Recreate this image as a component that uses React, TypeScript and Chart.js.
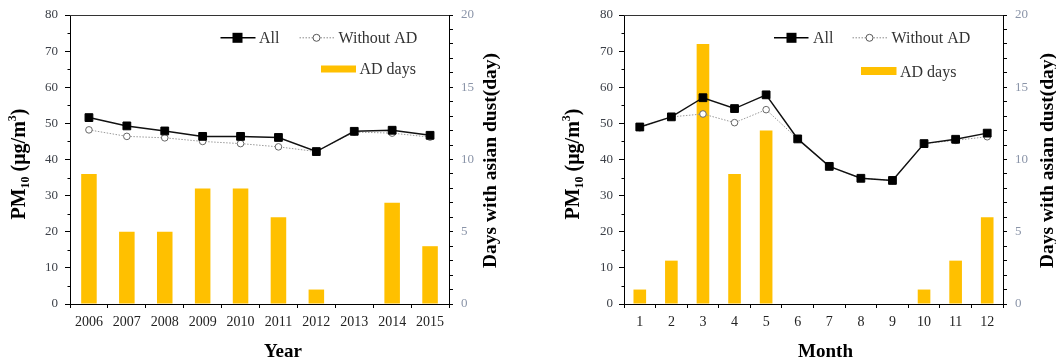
import React, { useEffect, useRef } from 'react';
import { Chart, registerables } from 'chart.js';

Chart.register(...registerables);

// ---------- data ----------
const yearLabels = ['2006', '2007', '2008', '2009', '2010', '2011', '2012', '2013', '2014', '2015'];
const yearAll = [51.6, 49.3, 47.9, 46.4, 46.4, 46.1, 42.2, 47.8, 48.1, 46.7];
const yearWithoutAD = [48.2, 46.4, 46.0, 45.0, 44.4, 43.5, 42.2, 47.6, 47.3, 46.2];
const yearADDays = [9, 5, 5, 8, 8, 6, 1, 0, 7, 4];

const monthLabels = ['1', '2', '3', '4', '5', '6', '7', '8', '9', '10', '11', '12'];
const monthAll = [49.0, 51.8, 57.1, 54.1, 57.9, 45.7, 38.1, 34.8, 34.2, 44.4, 45.6, 47.3];
const monthWithoutAD = [48.8, 51.8, 52.6, 50.2, 53.8, 45.7, 38.1, 34.8, 34.2, 44.4, 45.3, 46.3];
const monthADDays = [1, 3, 18, 9, 12, 0, 0, 0, 0, 1, 3, 6];

const pmMin = 0;
const pmMax = 80;
const pmStep = 5;
const pmLabelEvery = 10;
const dayMin = 0;
const dayMax = 20;
const dayStep = 1;
const dayLabelEvery = 5;

const seriesNames = ['All', 'Without AD', 'AD days'];
const pmTitleParts = ['PM', '10', ' (μg/m', '3', ')'];
const dayTitle = 'Days with asian dust(day)';

// ---------- styles ----------
const SERIF = "'Liberation Serif', 'Times New Roman', serif";
const BAR_COLOR = '#FFC000';
const CANVAS_W = 528;
const CANVAS_H = 361;

interface PanelSpec {
  labels: string[];
  all: number[];
  without: number[];
  days: number[];
  xTitle: string;
  leftW: number;
  rightW: number;
  barFrac: number;
  leftPad: number;
  pmTitleX: number;
  dayTitleX: number;
  xTitleX: number;
  lg: {
    allX0: number; allX1: number; allSq: number; allText: number;
    woX0: number; woX1: number; woCirc: number; woText: number;
    row1Base: number;
    adX0: number; adX1: number; adY0: number; adY1: number; adText: number; adBase: number;
  };
}

function drawPMTitle(ctx: CanvasRenderingContext2D, baseX: number, cy: number) {
  const big = `bold 20px ${SERIF}`;
  const small = `bold 12px ${SERIF}`;
  const parts = [
    { t: pmTitleParts[0], f: big, dy: 0 },
    { t: pmTitleParts[1], f: small, dy: 4 },
    { t: pmTitleParts[2], f: big, dy: 0 },
    { t: pmTitleParts[3], f: small, dy: -9 },
    { t: pmTitleParts[4], f: big, dy: 0 },
  ];
  let total = 0;
  const widths: number[] = [];
  for (const p of parts) {
    ctx.font = p.f;
    const w = ctx.measureText(p.t).width;
    widths.push(w);
    total += w;
  }
  ctx.save();
  ctx.translate(baseX, cy);
  ctx.rotate(-Math.PI / 2);
  ctx.fillStyle = '#000';
  ctx.textAlign = 'left';
  ctx.textBaseline = 'alphabetic';
  let x = -total / 2;
  parts.forEach((p, i) => {
    ctx.font = p.f;
    ctx.fillText(p.t, x, p.dy);
    x += widths[i];
  });
  ctx.restore();
}

function drawRotated(ctx: CanvasRenderingContext2D, text: string, baseX: number, cy: number, font: string) {
  ctx.save();
  ctx.translate(baseX, cy);
  ctx.rotate(-Math.PI / 2);
  ctx.font = font;
  ctx.fillStyle = '#000';
  ctx.textAlign = 'center';
  ctx.textBaseline = 'alphabetic';
  ctx.fillText(text, 0, 0);
  ctx.restore();
}

function makeDecor(spec: PanelSpec) {
  return {
    id: 'decor',
    afterDraw(chart: any) {
      const ctx: CanvasRenderingContext2D = chart.ctx;
      const ca = chart.chartArea;
      ctx.save();
      // top border
      ctx.strokeStyle = '#333';
      ctx.lineWidth = 1;
      ctx.beginPath();
      const ty = Math.round(ca.top) + 0.5;
      ctx.moveTo(ca.left, ty);
      ctx.lineTo(ca.right, ty);
      ctx.stroke();
      // minor ticks on left axis
      const ys = chart.scales.y;
      ctx.strokeStyle = '#000';
      ctx.beginPath();
      for (let v = pmMin + pmStep; v < pmMax; v += pmStep) {
        if (v % pmLabelEvery === 0) continue;
        const py = Math.round(ys.getPixelForValue(v)) + 0.5;
        ctx.moveTo(ca.left - 2.5, py);
        ctx.lineTo(ca.left, py);
      }
      ctx.stroke();

      // legend
      const lg = spec.lg;
      const midY = lg.row1Base - 5.5;
      ctx.font = `16px ${SERIF}`;
      ctx.fillStyle = '#333';
      ctx.textBaseline = 'alphabetic';
      ctx.textAlign = 'left';
      // All
      ctx.strokeStyle = '#000';
      ctx.lineWidth = 1.5;
      ctx.setLineDash([]);
      ctx.beginPath();
      ctx.moveTo(lg.allX0, midY);
      ctx.lineTo(lg.allX1, midY);
      ctx.stroke();
      ctx.fillStyle = '#000';
      ctx.fillRect(lg.allSq - 5, midY - 5, 10, 10);
      ctx.fillStyle = '#333';
      ctx.fillText(seriesNames[0], lg.allText, lg.row1Base);
      // Without AD
      ctx.strokeStyle = '#8a8a8a';
      ctx.lineWidth = 1;
      ctx.setLineDash([1.5, 1.5]);
      ctx.beginPath();
      ctx.moveTo(lg.woX0, midY);
      ctx.lineTo(lg.woX1, midY);
      ctx.stroke();
      ctx.setLineDash([]);
      ctx.beginPath();
      ctx.arc(lg.woCirc, midY, 3.5, 0, Math.PI * 2);
      ctx.fillStyle = '#fff';
      ctx.fill();
      ctx.strokeStyle = '#555';
      ctx.stroke();
      ctx.fillStyle = '#333';
      ctx.fillText(seriesNames[1], lg.woText, lg.row1Base);
      // AD days
      ctx.fillStyle = BAR_COLOR;
      ctx.fillRect(lg.adX0, lg.adY0, lg.adX1 - lg.adX0, lg.adY1 - lg.adY0);
      ctx.fillStyle = '#333';
      ctx.fillText(seriesNames[2], lg.adText, lg.adBase);

      // titles
      drawPMTitle(ctx, spec.pmTitleX, 164);
      drawRotated(ctx, dayTitle, spec.dayTitleX, 160.5, `bold 19.5px ${SERIF}`);
      ctx.font = `bold 19px ${SERIF}`;
      ctx.fillStyle = '#000';
      ctx.textAlign = 'center';
      ctx.textBaseline = 'alphabetic';
      ctx.fillText(spec.xTitle, spec.xTitleX, 357);
      ctx.restore();
    },
  };
}

function zeroPad(s: any) {
  s.paddingTop = 0;
  s.paddingBottom = 0;
  s.paddingLeft = 0;
  s.paddingRight = 0;
}

function Panel({ spec }: { spec: PanelSpec }) {
  const ref = useRef<HTMLCanvasElement | null>(null);
  useEffect(() => {
    if (!ref.current) return;
    const chart = new Chart(ref.current, {
      type: 'bar',
      data: {
        labels: spec.labels,
        datasets: [
          {
            type: 'line',
            label: seriesNames[0],
            data: spec.all,
            yAxisID: 'y',
            borderColor: '#111',
            borderWidth: 1.5,
            pointStyle: 'rect',
            pointRadius: 5.5,
            pointBackgroundColor: '#000',
            pointBorderColor: '#000',
            pointBorderWidth: 1,
            tension: 0,
            order: 0,
          } as any,
          {
            type: 'line',
            label: seriesNames[1],
            data: spec.without,
            yAxisID: 'y',
            borderColor: '#9a9a9a',
            borderWidth: 1,
            borderDash: [1.5, 1.5],
            pointStyle: 'circle',
            pointRadius: 3.3,
            pointBackgroundColor: '#fff',
            pointBorderColor: '#666',
            pointBorderWidth: 1,
            tension: 0,
            order: 1,
          } as any,
          {
            type: 'bar',
            label: seriesNames[2],
            data: spec.days,
            yAxisID: 'y1',
            backgroundColor: BAR_COLOR,
            borderWidth: 0,
            barPercentage: spec.barFrac,
            categoryPercentage: 1,
            order: 2,
          } as any,
        ],
      },
      options: {
        responsive: false,
        animation: false,
        events: [],
        layout: { padding: { top: 15, left: 0, right: 0, bottom: 0 } },
        plugins: { legend: { display: false }, tooltip: { enabled: false } },
        scales: {
          x: {
            offset: true,
            grid: { display: true, drawOnChartArea: false, drawTicks: true, tickLength: 4, color: '#000', offset: true },
            border: { display: true, color: '#000', width: 1 },
            ticks: { font: { family: SERIF, size: 14 }, color: '#222', padding: 6, maxRotation: 0, autoSkip: false },
            afterFit: (s: any) => { s.height = CANVAS_H - 304; zeroPad(s); },
          },
          y: {
            position: 'left',
            min: pmMin,
            max: pmMax,
            grid: {
              display: true,
              drawOnChartArea: false,
              drawTicks: true,
              tickLength: 5,
              color: (c: any) => (c.tick && c.tick.value % pmLabelEvery === 0 ? '#000' : 'rgba(0,0,0,0)'),
            },
            border: { display: true, color: '#000', width: 1 },
            ticks: {
              stepSize: pmStep,
              autoSkip: false,
              padding: spec.leftPad,
              color: '#3c4048',
              font: { family: SERIF, size: 13 },
              callback: (v: any) => (Number(v) % pmLabelEvery === 0 ? String(v) : ''),
            },
            afterFit: (s: any) => { s.width = spec.leftW; zeroPad(s); },
          },
          y1: {
            position: 'right',
            min: dayMin,
            max: dayMax,
            grid: { display: true, drawOnChartArea: false, drawTicks: true, tickLength: 4, color: '#000' },
            border: { display: true, color: '#000', width: 1 },
            ticks: {
              stepSize: dayStep,
              autoSkip: false,
              padding: 8,
              color: '#8a94a8',
              font: { family: SERIF, size: 13 },
              callback: (v: any) => (Number(v) % dayLabelEvery === 0 ? String(v) : ''),
            },
            afterFit: (s: any) => { s.width = spec.rightW; zeroPad(s); },
          },
        },
      } as any,
      plugins: [makeDecor(spec)],
    });
    return () => chart.destroy();
  }, [spec]);
  return <canvas ref={ref} width={CANVAS_W} height={CANVAS_H} style={{ display: 'block', width: CANVAS_W, height: CANVAS_H }} />;
}

const yearSpec: PanelSpec = {
  labels: yearLabels,
  all: yearAll,
  without: yearWithoutAD,
  days: yearADDays,
  xTitle: 'Year',
  leftW: 70,
  rightW: 79,
  barFrac: 0.41,
  leftPad: 7,
  pmTitleX: 24.5,
  dayTitleX: 495.5,
  xTitleX: 283,
  lg: {
    allX0: 220.5, allX1: 255.5, allSq: 237.5, allText: 259,
    woX0: 299.5, woX1: 335, woCirc: 316.5, woText: 338.5,
    row1Base: 43.3,
    adX0: 321, adX1: 356, adY0: 65.5, adY1: 72.5, adText: 359.5, adBase: 73.5,
  },
};

const monthSpec: PanelSpec = {
  labels: monthLabels,
  all: monthAll,
  without: monthWithoutAD,
  days: monthADDays,
  xTitle: 'Month',
  leftW: 96,
  rightW: 53,
  barFrac: 0.4,
  leftPad: 6,
  pmTitleX: 51,
  dayTitleX: 524.5,
  xTitleX: 297.5,
  lg: {
    allX0: 246, allX1: 280.5, allSq: 263.5, allText: 285,
    woX0: 324.5, woX1: 359.5, woCirc: 341.5, woText: 363.5,
    row1Base: 43.3,
    adX0: 333, adX1: 368.5, adY0: 67, adY1: 75, adText: 372, adBase: 76.5,
  },
};

export default function App() {
  return (
    <div
      style={{
        position: 'fixed',
        left: 0,
        top: 0,
        width: 1056,
        height: 361,
        background: '#fff',
        display: 'flex',
        flexDirection: 'row',
        overflow: 'hidden',
      }}
    >
      <Panel spec={yearSpec} />
      <Panel spec={monthSpec} />
    </div>
  );
}
